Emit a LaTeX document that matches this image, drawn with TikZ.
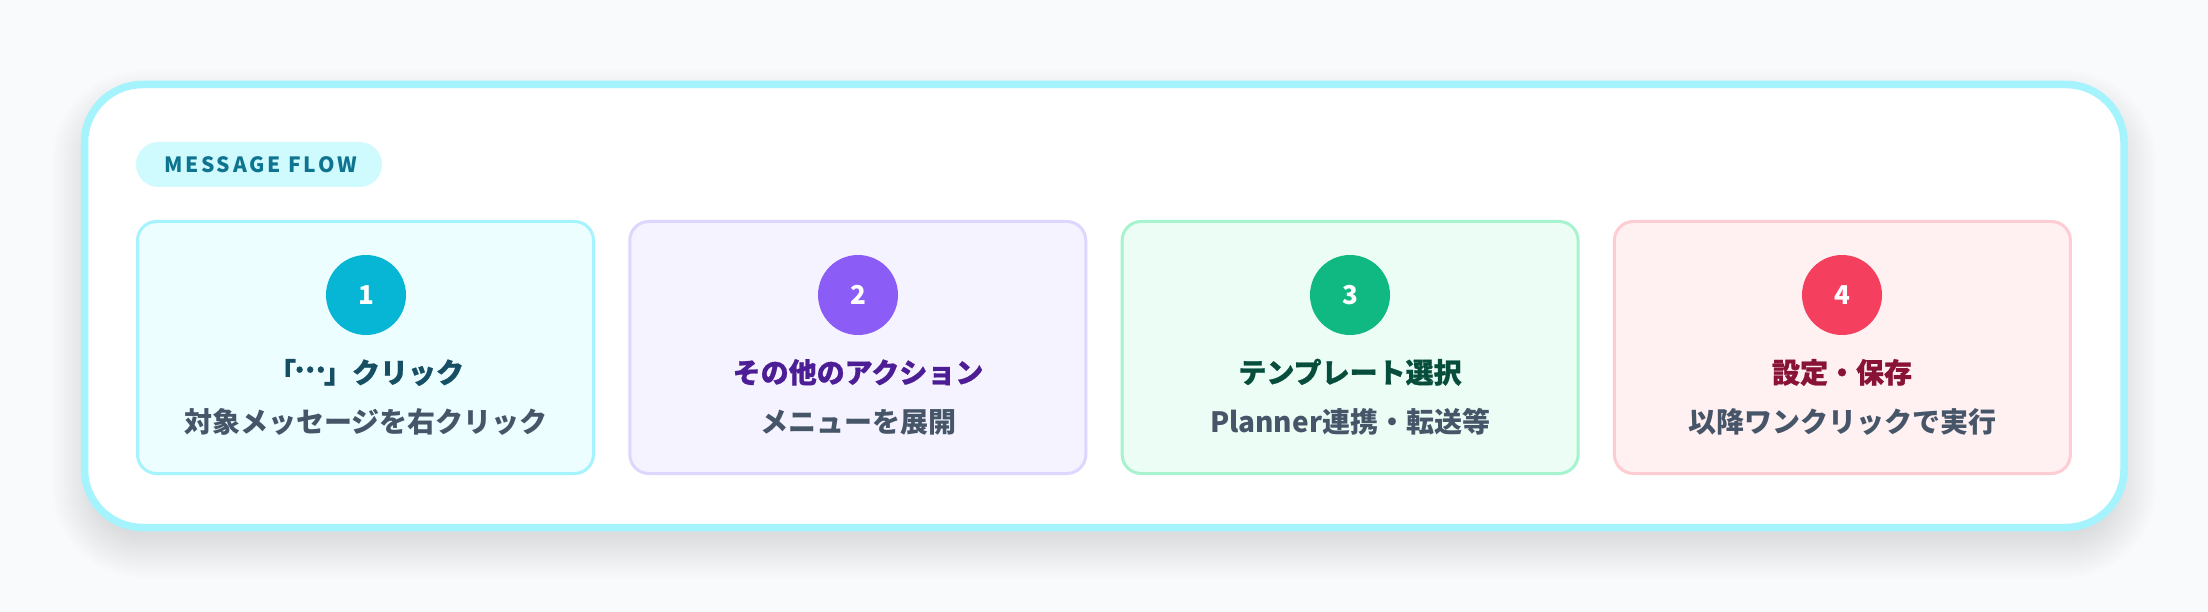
\documentclass[tikz,border=0pt]{standalone}
\usepackage{fontspec}
\newfontfamily\jp{Noto Sans CJK JP}
\newfontfamily\jptitle{Noto Sans CJK JP}[BoldFeatures={FakeBold=0.8}]
\newfontfamily\pillfont{Noto Sans CJK JP}[LetterSpace=13]
\definecolor{bgc}{HTML}{F8FAFC}
\definecolor{outerB}{HTML}{A5F3FC}
\definecolor{pillF}{HTML}{CFFAFE}
\definecolor{pillT}{HTML}{0E7490}
\definecolor{subT}{HTML}{475569}
\definecolor{fA}{HTML}{ECFEFF}\definecolor{bA}{HTML}{A5F3FC}\definecolor{cA}{HTML}{06B6D4}\definecolor{tA}{HTML}{164E63}
\definecolor{fB}{HTML}{F5F3FF}\definecolor{bB}{HTML}{DDD6FE}\definecolor{cB}{HTML}{8B5CF6}\definecolor{tB}{HTML}{4C1D95}
\definecolor{fC}{HTML}{ECFDF5}\definecolor{bC}{HTML}{A7F3D0}\definecolor{cC}{HTML}{10B981}\definecolor{tC}{HTML}{064E3B}
\definecolor{fD}{HTML}{FFF1F2}\definecolor{bD}{HTML}{FECDD3}\definecolor{cD}{HTML}{F43F5E}\definecolor{tD}{HTML}{881337}
\tikzset{
  stepcard/.style={draw, line width=3pt, rounded corners=19pt, minimum width=456pt, minimum height=252pt, inner sep=0pt},
  numdot/.style={circle, minimum size=80pt, inner sep=0pt, text=white, font=\jp\bfseries\fontsize{26}{30}\selectfont},
  steptitle/.style={anchor=base, inner sep=0pt, font=\jptitle\bfseries\fontsize{28}{34}\selectfont},
  stepsub/.style={anchor=base, inner sep=0pt, text=subT, font=\jp\bfseries\fontsize{28}{34}\selectfont},
  tagpill/.style={fill=pillF, rounded corners=22.5pt, minimum width=246pt, minimum height=45pt, inner sep=0pt, text=pillT, font=\pillfont\bfseries\fontsize{21}{25}\selectfont}
}
\newcommand{\midellip}{\makebox[1em][c]{\raisebox{0.38em}{…}}}
\begin{document}
\begin{tikzpicture}[x=1pt,y=-1pt]
\useasboundingbox (0,0) rectangle (2208,612);
\fill[bgc] (0,0) rectangle (2208,612);
% shadow
\foreach \i in {0,...,14}{
  \pgfmathsetmacro{\e}{-10+3*\i}
  \pgfmathsetmacro{\r}{max(58+\e,5)}
  \fill[black, opacity=0.008, rounded corners=\r pt] (84.5-\e,84.5+18-\e) rectangle (2124+\e,527.5+18+\e);
}
% outer card
\draw[draw=outerB, fill=white, line width=7.5pt, rounded corners=58pt] (84.5,84.5) rectangle (2124,527.5);
% tag
\node[tagpill] (tag) at (259,164.5) {\hspace{3pt}MESSAGE FLOW};
% cards
\node[stepcard, fill=fA, draw=bA] (card1) at (365.5,347.5) {};
\node[stepcard, fill=fB, draw=bB] (card2) at (857.8,347.5) {};
\node[stepcard, fill=fC, draw=bC] (card3) at (1350.1,347.5) {};
\node[stepcard, fill=fD, draw=bD] (card4) at (1842.4,347.5) {};
% numbers
\node[numdot, fill=cA] (num1) at (366,295) {1};
\node[numdot, fill=cB] (num2) at (858,295) {2};
\node[numdot, fill=cC] (num3) at (1350,295) {3};
\node[numdot, fill=cD] (num4) at (1842,295) {4};
% titles
\node[steptitle, text=tA] (title1) at (366,383) {「\midellip」クリック};
\node[steptitle, text=tB] (title2) at (858,383) {その他のアクション};
\node[steptitle, text=tC] (title3) at (1350,383) {テンプレート選択};
\node[steptitle, text=tD] (title4) at (1842,383) {設定・保存};
% subtitles
\node[stepsub] (sub1) at (366,432) {対象メッセージを右クリック};
\node[stepsub] (sub2) at (858,432) {メニューを展開};
\node[stepsub] (sub3) at (1350,432) {Planner連携・転送等};
\node[stepsub] (sub4) at (1842,432) {以降ワンクリックで実行};
\end{tikzpicture}
\end{document}
